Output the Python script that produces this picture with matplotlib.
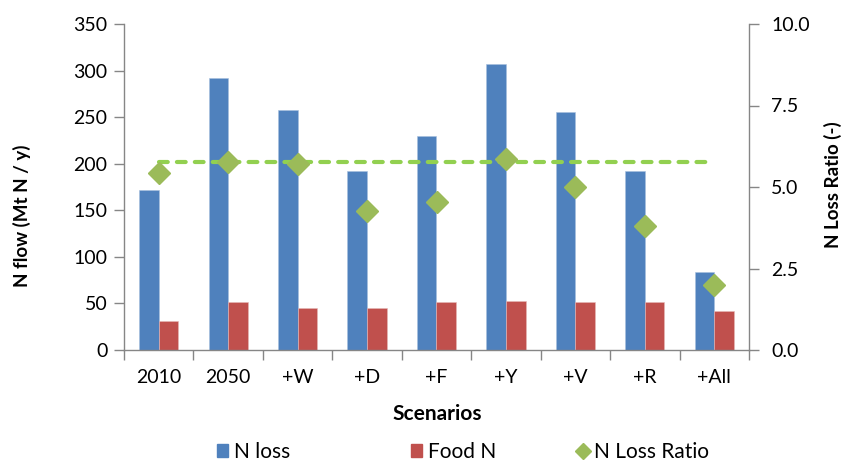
import matplotlib
matplotlib.use("Agg")
import matplotlib.pyplot as plt
import numpy as np
from matplotlib.lines import Line2D
from matplotlib.patches import Patch

plt.rcParams['font.family'] = ['Lato', 'DejaVu Sans']

categories = ['2010', '2050', '+W', '+D', '+F', '+Y', '+V', '+R', '+All']
n_loss = [172, 292, 258, 192, 230, 307, 255, 192, 84]
food_n = [31.5, 51, 45.5, 45, 51, 52.5, 51, 51, 42]
loss_ratio = [5.42, 5.76, 5.71, 4.26, 4.54, 5.85, 5.01, 3.80, 1.99]
ref_ratio = 5.76

blue = '#4F81BD'
red = '#C0504D'
green = '#9BBB59'
lgreen = '#92D050'
axc = '#868686'
fs = 14

fig = plt.figure(figsize=(8.44, 4.63), dpi=100)
ax = fig.add_axes([124/844, 1-350/463, (749-124)/844, (350-24)/463])
ax2 = ax.twinx()

x = np.arange(len(categories))
w = 0.283
ax.bar(x - w/2, n_loss, w, color=blue, edgecolor='#A7BFDE', linewidth=0.4, zorder=2)
ax.bar(x + w/2, food_n, w, color=red, edgecolor='#E6B9B8', linewidth=0.4, zorder=2)

ax2.plot([x[0], x[-1]], [ref_ratio, ref_ratio], color=lgreen, lw=3,
         linestyle=(0, (2.1, 2.2)), dash_capstyle='round', zorder=3)
ax2.plot(x, loss_ratio, linestyle='none', marker='D', ms=11.5, color=green, zorder=4)

ax.set_xlim(-0.5, len(categories) - 0.5)
ax.set_ylim(0, 350)
ax.set_yticks(np.arange(0, 351, 50))
ax2.set_ylim(0, 10)
ax2.set_yticks([0, 2.5, 5, 7.5, 10])
ax2.set_yticklabels([f'{v:.1f}' for v in [0, 2.5, 5, 7.5, 10]])

ax.set_xticks(x)
ax.set_xticklabels(categories)
ax.set_xticks(np.arange(-0.5, len(categories)), minor=True)
ax.tick_params(axis='x', which='major', length=0, pad=14, labelsize=fs)
ax.tick_params(axis='x', which='minor', length=7, width=1, color=axc, direction='out')
ax.tick_params(axis='y', length=7, width=1, color=axc, pad=5, labelsize=fs)
ax2.tick_params(axis='y', length=7, width=1, color=axc, pad=9, labelsize=fs)

for a in (ax, ax2):
    a.spines['top'].set_visible(False)
    for s in ['left', 'right', 'bottom']:
        a.spines[s].set_color(axc)
        a.spines[s].set_linewidth(1)
ax.spines['right'].set_visible(False)
ax2.spines['left'].set_visible(False)
ax2.spines['bottom'].set_visible(False)

fig.text(22/844, 1-216/463, 'N flow (Mt N / y)', rotation=90, ha='center', va='center',
         fontsize=13.5, fontweight='bold')
fig.text(833/844, 1-185/463, 'N Loss Ratio (-)', rotation=90, ha='center', va='center',
         fontsize=13.5, fontweight='bold')
fig.text(437/844, 1-414/463, 'Scenarios', ha='center', va='center', fontsize=15, fontweight='bold')

handles = [Patch(color=blue), Patch(color=red),
           Line2D([], [], linestyle='none', marker='D', ms=8, color=green)]
labels = ['N loss', 'Food N', 'N Loss Ratio']
xs = [217, 411, 577]
for h, l, xx in zip(handles, labels, xs):
    fig.legend([h], [l], loc='center left', bbox_to_anchor=(xx/844, 1-452/463),
               frameon=False, fontsize=15, handlelength=0.55, handleheight=0.55,
               handletextpad=0.25, borderpad=0, borderaxespad=0)

fig.savefig('out.png', dpi=100)
